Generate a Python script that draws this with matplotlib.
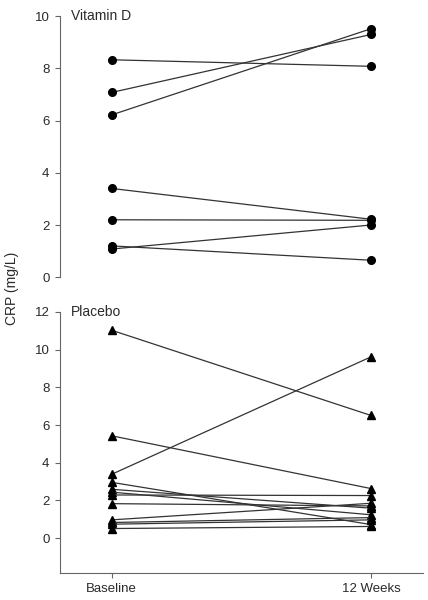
import numpy as np
import matplotlib
matplotlib.use("Agg")
from matplotlib import pyplot as plt

plt.rcParams['font.family'] = ['Liberation Sans', 'DejaVu Sans']

timepoints = ["Baseline", "12 Weeks"]

# Vitamin D group: baseline -> 12 weeks
vitd_base = [8.33, 7.08, 6.22, 3.40, 2.20, 1.20, 1.08]
vitd_week12 = [8.08, 9.30, 9.52, 2.22, 2.18, 0.65, 2.00]

# Placebo group
plac_base = [11.03, 5.43, 3.39, 2.96, 2.59, 2.44, 2.29, 1.83, 0.97, 0.83, 0.74, 0.51]
plac_week12 = [6.51, 2.63, 9.62, 0.72, 1.59, 1.24, 2.26, 1.71, 1.85, 1.09, 0.97, 0.62]

vitd_ticks = [0, 2, 4, 6, 8, 10]
plac_ticks = [0, 2, 4, 6, 8, 10, 12]

line_col = "#333333"
axis_col = "#666666"
text_col = "#2a2a2a"

fig = plt.figure(figsize=(4.28, 6), dpi=100)
ax1 = fig.add_axes([0.14, 0.538, 0.848, 0.435])
ax2 = fig.add_axes([0.14, 0.045, 0.848, 0.435])

x = np.arange(len(timepoints))

for b, w in zip(vitd_base, vitd_week12):
    ax1.plot(x, [b, w], color=line_col, lw=0.9, marker="o", ms=5.5,
             mfc="black", mec="black", clip_on=False)
for b, w in zip(plac_base, plac_week12):
    ax2.plot(x, [b, w], color=line_col, lw=0.9, marker="^", ms=5.5,
             mfc="black", mec="black", clip_on=False)

for ax in (ax1, ax2):
    ax.set_xlim(-0.2, 1.2)
    for s in ("top", "right"):
        ax.spines[s].set_visible(False)
    for s in ("left", "bottom"):
        ax.spines[s].set_color(axis_col)
        ax.spines[s].set_linewidth(0.8)
    ax.tick_params(direction="out", length=3.5, width=0.8, color=axis_col,
                   labelsize=9.5, labelcolor=text_col, pad=4)

ax1.set_ylim(0, 10)
ax1.set_yticks(vitd_ticks)
ax1.spines["bottom"].set_visible(False)
ax1.set_xticks([])
ax1.text(0.03, 10, "Vitamin D", transform=ax1.get_yaxis_transform(),
         fontsize=10, va="center", ha="left", color=text_col)

ax2.set_ylim(-1.85, 12)
ax2.spines["left"].set_bounds(-1.85, 12)
ax2.set_yticks(plac_ticks)
ax2.set_xticks(x)
ax2.set_xticklabels(timepoints)
ax2.text(0.03, 12, "Placebo", transform=ax2.get_yaxis_transform(),
         fontsize=10, va="center", ha="left", color=text_col)

fig.text(0.028, 0.52, "CRP (mg/L)", rotation=90, va="center", ha="center",
         fontsize=10, color=text_col)

fig.savefig("out.png", dpi=100)
